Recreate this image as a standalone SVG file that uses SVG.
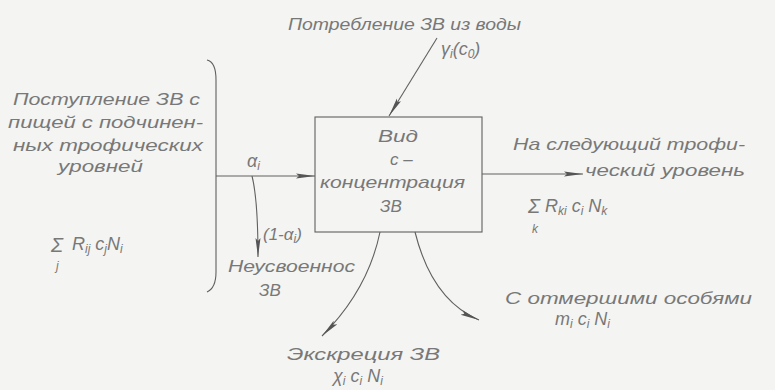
<svg xmlns="http://www.w3.org/2000/svg" width="775" height="390" viewBox="0 0 775 390">
<defs>
<style>
.t{font-family:"Liberation Sans","DejaVu Sans",sans-serif;font-style:italic;font-size:17px;fill:#787878}
.m{font-size:18px}
.s{font-size:12px}
.sg{font-size:20px}
.ln{fill:none;stroke:#606060;stroke-width:1.1}
</style>
<marker id="ah" markerWidth="20" markerHeight="8" refX="19" refY="3" orient="auto" markerUnits="userSpaceOnUse">
<path d="M0,0.5 L19,3 L0,5.5 L3,3 z" fill="#555"/>
</marker>
</defs>
<rect width="775" height="390" fill="#f4f4f2"/>

<g id="species">
<rect x="315" y="117" width="167" height="115" class="ln"/>
<text class="t" x="378" y="142" textLength="40" lengthAdjust="spacingAndGlyphs">Вид</text>
<text class="t" x="390" y="165">с –</text>
<text class="t" x="320" y="188" textLength="145" lengthAdjust="spacingAndGlyphs">концентрация</text>
<text class="t" x="380" y="212">ЗВ</text>
</g>

<g id="input">
<text class="t" x="13" y="105" textLength="187" lengthAdjust="spacingAndGlyphs">Поступление ЗВ с</text>
<text class="t" x="8" y="128" textLength="195" lengthAdjust="spacingAndGlyphs">пищей с подчинен-</text>
<text class="t" x="13" y="151" textLength="190" lengthAdjust="spacingAndGlyphs">ных трофических</text>
<text class="t" x="58" y="172" textLength="85" lengthAdjust="spacingAndGlyphs">уровней</text>
<text class="t sg" x="51" y="252">Σ</text>
<text class="t s" x="56" y="270">j</text>
<text class="t m" x="72" y="250">R<tspan class="s" dy="3">ij</tspan><tspan dy="-3"> c</tspan><tspan class="s" dy="3">j</tspan><tspan dy="-3">N</tspan><tspan class="s" dy="3">i</tspan></text>
</g>

<g id="water">
<text class="t" x="288" y="30" textLength="233" lengthAdjust="spacingAndGlyphs">Потребление ЗВ из воды</text>
<text class="t m" x="441" y="55">γ<tspan class="s" dy="3">i</tspan><tspan dy="-3">(c</tspan><tspan class="s" dy="3">0</tspan><tspan dy="-3">)</tspan></text>
</g>

<g id="next">
<text class="t" x="513" y="150" textLength="232" lengthAdjust="spacingAndGlyphs">На следующий трофи-</text>
<text class="t" x="585" y="176" textLength="160" lengthAdjust="spacingAndGlyphs">ческий уровень</text>
<text class="t sg" x="528" y="213">Σ</text>
<text class="t s" x="532" y="233">k</text>
<text class="t m" x="545" y="212">R<tspan class="s" dy="3">ki</tspan><tspan dy="-3"> c</tspan><tspan class="s" dy="3">i</tspan><tspan dy="-3"> N</tspan><tspan class="s" dy="3">k</tspan></text>
</g>

<g id="unassimilated">
<text class="t" x="228" y="272" textLength="127" lengthAdjust="spacingAndGlyphs">Неусвоеннос</text>
<text class="t" x="259" y="296">ЗВ</text>
<text class="t" x="263" y="240" font-size="15">(1-α<tspan class="s" dy="3">i</tspan><tspan dy="-3">)</tspan></text>
</g>

<g id="excretion">
<text class="t" x="287" y="360" textLength="153" lengthAdjust="spacingAndGlyphs">Экскреция ЗВ</text>
<text class="t m" x="333" y="382">χ<tspan class="s" dy="3">i</tspan><tspan dy="-3"> c</tspan><tspan class="s" dy="3">i</tspan><tspan dy="-3"> N</tspan><tspan class="s" dy="3">i</tspan></text>
</g>

<g id="dead">
<text class="t" x="505" y="304" textLength="247" lengthAdjust="spacingAndGlyphs">С отмершими особями</text>
<text class="t m" x="555" y="325">m<tspan class="s" dy="3">i</tspan><tspan dy="-3"> c</tspan><tspan class="s" dy="3">i</tspan><tspan dy="-3"> N</tspan><tspan class="s" dy="3">i</tspan></text>
</g>

<g id="connectors">
<path class="ln" d="M207,60 Q216,62 216,80 L216,272 Q216,288 207,292"/>
<path class="ln" d="M216,176 L315,176" marker-end="url(#ah)"/>
<text class="t m" x="247" y="167">α<tspan class="s" dy="3">i</tspan></text>
<path class="ln" d="M252,176 Q258,200 258,257" marker-end="url(#ah)"/>
<path class="ln" d="M437,38 L389,116" marker-end="url(#ah)"/>
<path class="ln" d="M482,174 L583,174" marker-end="url(#ah)"/>
<path class="ln" d="M380,232 Q368,290 322,336" marker-end="url(#ah)"/>
<path class="ln" d="M415,232 Q432,300 479,320" marker-end="url(#ah)"/>
</g>
</svg>
